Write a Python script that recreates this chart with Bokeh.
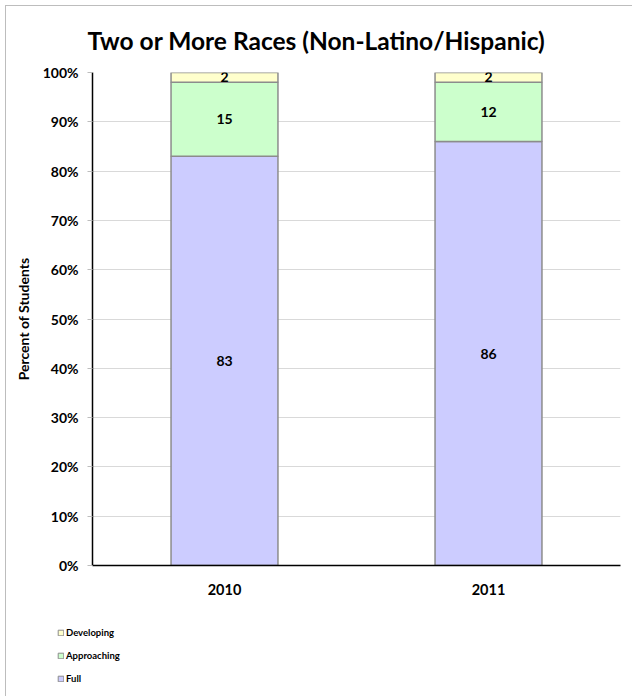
from bokeh.plotting import figure
from bokeh.layouts import column
from bokeh.models import ColumnDataSource, Legend, LegendItem, FixedTicker, Range1d
from bokeh.core.properties import value
from bokeh.embed import file_html
from bokeh.resources import INLINE

years = ["2010", "2011"]
full = [83, 86]
approaching = [15, 12]
developing = [2, 2]
y_ticks = [0, 10, 20, 30, 40, 50, 60, 70, 80, 90, 100]
series_names = ["Developing", "Approaching", "Full"]
series_colors = ["#FFFFCC", "#CCFFCC", "#CCCCFF"]

FONT = "Lato"
x = [0.5, 1.5]
full_top = [f for f in full]
appr_top = [f + a for f, a in zip(full, approaching)]
dev_top = [f + a + d for f, a, d in zip(full, approaching, developing)]

src = ColumnDataSource(dict(
    x=x, years=years,
    full_b=[0, 0], full_t=full_top,
    appr_b=full_top, appr_t=appr_top,
    dev_b=appr_top, dev_t=dev_top,
    full_lbl=[str(v) for v in full], appr_lbl=[str(v) for v in approaching], dev_lbl=[str(v) for v in developing],
    full_y=[(b + t) / 2 for b, t in zip([0, 0], full_top)],
    appr_y=[(b + t) / 2 for b, t in zip(full_top, appr_top)],
    dev_y=[(b + t) / 2 for b, t in zip(appr_top, dev_top)],
))

p = figure(width=626, height=604, output_backend="svg", toolbar_location=None,
           x_range=Range1d(0, 2), y_range=Range1d(0, 100),
           min_border_left=86, min_border_top=65, min_border_right=12, min_border_bottom=45,
           title="Two or More Races (Non-Latino/Hispanic)")
p.frame_align = False
p.title.align = "left"
p.title.text_font = FONT
p.title.text_font_size = "24.5px"
p.title.text_font_style = "bold"
p.title.text_color = "black"
p.title.offset = -5
p.title.standoff = 35

bw = 0.405
r_full = p.vbar(x="x", bottom="full_b", top="full_t", width=bw, source=src,
                fill_color=series_colors[2], line_color="#8c8c8c", line_width=1.5)
r_appr = p.vbar(x="x", bottom="appr_b", top="appr_t", width=bw, source=src,
                fill_color=series_colors[1], line_color="#8c8c8c", line_width=1.5)
r_dev = p.vbar(x="x", bottom="dev_b", top="dev_t", width=bw, source=src,
               fill_color=series_colors[0], line_color="#8c8c8c", line_width=1.5)

for lbl, yc in [("full_lbl", "full_y"), ("appr_lbl", "appr_y"), ("dev_lbl", "dev_y")]:
    p.text(x="x", y=yc, text=lbl, source=src, text_align="center", text_baseline="middle",
           text_font=value(FONT), text_font_style="bold", text_font_size="14px", text_color="black")

p.outline_line_color = None
p.background_fill_color = "white"
p.border_fill_color = "white"

p.xgrid.visible = False
p.ygrid.grid_line_color = "#d9d9d9"
p.ygrid.grid_line_width = 1
p.ygrid.ticker = FixedTicker(ticks=y_ticks)

p.yaxis.ticker = FixedTicker(ticks=y_ticks)
p.yaxis.major_label_overrides = {t: f"{t}%" for t in y_ticks}
p.yaxis.axis_line_color = "black"
p.yaxis.axis_line_width = 1.5
p.yaxis.major_tick_line_color = "#bdbdbd"
p.yaxis.major_tick_out = 5
p.yaxis.major_tick_in = 0
p.yaxis.minor_tick_line_color = None
p.yaxis.major_label_text_font = FONT
p.yaxis.major_label_text_font_style = "bold"
p.yaxis.major_label_text_font_size = "14px"
p.yaxis.major_label_text_color = "black"
p.yaxis.major_label_standoff = 9
p.yaxis.axis_label = "Percent of Students"
p.yaxis.axis_label_text_font = FONT
p.yaxis.axis_label_text_font_style = "bold"
p.yaxis.axis_label_text_font_size = "14px"
p.yaxis.axis_label_text_color = "black"
p.yaxis.axis_label_standoff = 8

p.xaxis.ticker = FixedTicker(ticks=x)
p.xaxis.major_label_overrides = {v: y for v, y in zip(x, years)}
p.xaxis.axis_line_color = "black"
p.xaxis.axis_line_width = 1.5
p.xaxis.major_tick_line_color = None
p.xaxis.minor_tick_line_color = None
p.xaxis.major_label_text_font = FONT
p.xaxis.major_label_text_font_style = "bold"
p.xaxis.major_label_text_font_size = "14.5px"
p.xaxis.major_label_text_color = "black"
p.xaxis.major_label_standoff = 12

# Legend figure below the chart (proxy glyphs sit outside its visible range)
p2 = figure(width=626, height=86, output_backend="svg", toolbar_location=None,
            x_range=Range1d(0, 1), y_range=Range1d(0, 1),
            min_border_left=0, min_border_right=0, min_border_top=0, min_border_bottom=0)
p2.frame_align = False
p2.axis.visible = False
p2.grid.visible = False
p2.outline_line_color = None
items = []
for name, col in zip(series_names, series_colors):
    r = p2.vbar(x=[-10], top=[-10], bottom=[-11], width=0.1, fill_color=col, line_color="#8c8c8c", line_width=1)
    items.append(LegendItem(label=name, renderers=[r]))
legend = Legend(items=items, location=(51, 12), orientation="vertical")
legend.background_fill_alpha = 0
legend.border_line_color = None
legend.label_text_font = FONT
legend.label_text_font_style = "bold"
legend.label_text_font_size = "9.5px"
legend.label_text_color = "black"
legend.glyph_width = 7
legend.glyph_height = 7
legend.label_standoff = 2
legend.spacing = 12
legend.padding = 0
legend.margin = 0
legend.label_height = 10
p2.add_layout(legend, "center")

layout = column(p, p2, spacing=0)
layout.styles = {"border-left": "1px solid #bdbdbd", "border-top": "1px solid #bdbdbd",
                 "margin-left": "5px", "margin-top": "5px"}

open("out.html", "w").write(file_html(layout, INLINE))
